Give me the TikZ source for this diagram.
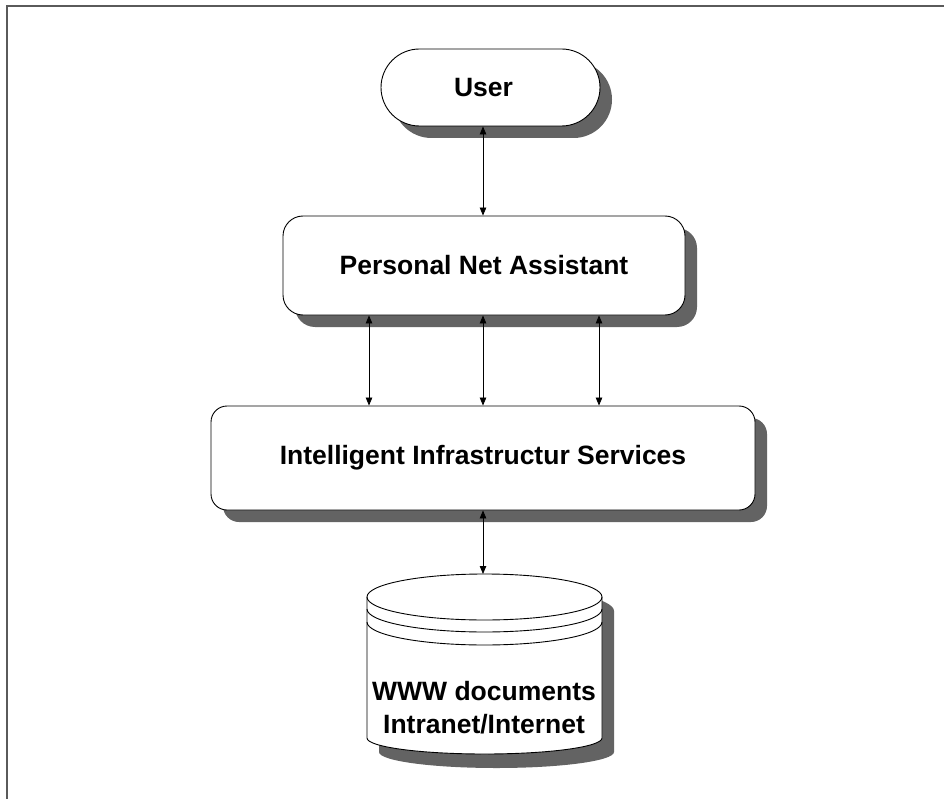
\documentclass[tikz,border=0pt]{standalone}
\usepackage{fontspec}
\setmainfont{Liberation Sans}
\usetikzlibrary{arrows.meta,shadows}
\definecolor{shadowgray}{HTML}{636363}
\definecolor{framegray}{HTML}{5A5A5A}
\tikzset{
  box/.style={draw=black, line width=0.9pt, fill=white, font=\fontsize{26.5}{33}\selectfont\bfseries,
    drop shadow={shadow xshift=12pt, shadow yshift=-12pt, fill=shadowgray, opacity=1}},
  arr/.style={draw=black, line width=0.8pt, {Triangle[length=8pt,width=6.5pt]}-{Triangle[length=8pt,width=6.5pt]}},
  cyl/.style={draw=black, line width=0.9pt, fill=white},
  cylshadow/.style={fill=shadowgray},
  lbl/.style={font=\fontsize{26.5}{33}\selectfont\bfseries, align=center}
}
\begin{document}
\begin{tikzpicture}[x=1pt,y=-1pt]
\useasboundingbox (0,0) rectangle (944,799);
\fill[white] (0,0) rectangle (944,799);
% frame
\draw[framegray, line width=2pt] (6.5,799) -- (6.5,6.5) -- (944,6.5);

% boxes
\node[box, rounded corners=38.5pt, minimum width=219pt, minimum height=77pt, inner sep=0pt] (user) at (490.5,87.5) {\hspace*{-14pt}User};
\node[box, rounded corners=20pt, minimum width=402pt, minimum height=99pt, inner sep=0pt] (pna) at (484,265.5) {Personal Net Assistant};
\node[box, rounded corners=16pt, minimum width=544pt, minimum height=104pt, inner sep=0pt] (iis) at (483,458) {Intelligent Infrastructur Services};

% cylinder shadow
\begin{scope}[shift={(12,14)}]
\fill[cylshadow] (367,597) -- (367,738) arc[start angle=180,end angle=360,x radius=117.5pt,y radius=16pt]
  -- (602,597) arc[start angle=0,end angle=180,x radius=117.5pt,y radius=23pt] -- cycle;
\end{scope}
% cylinder body
\draw[cyl] (367,597) -- (367,738) arc[start angle=180,end angle=360,x radius=117.5pt,y radius=16pt]
  -- (602,597) arc[start angle=0,end angle=180,x radius=117.5pt,y radius=23pt] -- cycle;
\draw[line width=0.9pt] (367,597) arc[start angle=180,end angle=360,x radius=117.5pt,y radius=23pt];
\draw[line width=0.9pt] (367,609) arc[start angle=180,end angle=360,x radius=117.5pt,y radius=23pt];
\draw[line width=0.9pt] (367,622) arc[start angle=180,end angle=360,x radius=117.5pt,y radius=23pt];
\coordinate (dbtop) at (483,574);
\node[lbl] (db) at (484,708) {WWW documents\\Intranet/Internet};

% connectors
\draw[arr] (pna.north -| 483,0) -- (user.south -| 483,0);
\draw[arr] ([xshift=-115pt]pna.south) -- ([xshift=-115pt]pna.south |- iis.north);
\draw[arr] (pna.south -| 483,0) -- (iis.north -| 483,0);
\draw[arr] ([xshift=115pt]pna.south) -- ([xshift=115pt]pna.south |- iis.north);
\draw[arr] (iis.south) -- (dbtop);
\end{tikzpicture}
\end{document}
